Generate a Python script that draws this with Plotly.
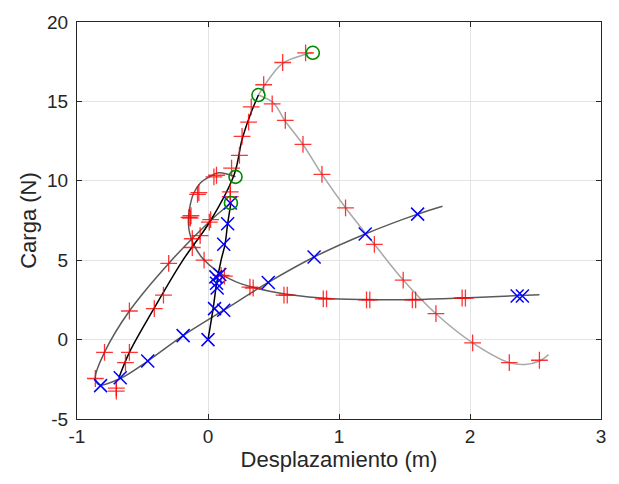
import plotly.graph_objects as go

# ---- line paths (x, y) ----
light1_x = [0.385, 0.43, 0.57, 0.74, 0.80]
light1_y = [15.4, 16.0, 17.4, 17.95, 18.06]

light2_x = [0.385, 0.50, 0.59, 0.72, 0.87, 1.05, 1.27, 1.49, 1.74, 2.02, 2.30, 2.42, 2.53, 2.60]
light2_y = [15.4, 14.9, 13.75, 12.35, 10.4, 8.3, 6.0, 3.75, 1.63, -0.2, -1.45, -1.57, -1.35, -0.95]

dark1_x = [0.21, 0.08, 0.01, -0.06, -0.11, -0.14, -0.15, -0.14, -0.11, -0.04, 0.07, 0.21, 0.47, 0.89, 1.22, 1.57, 1.95, 2.53]
dark1_y = [10.25, 10.5, 10.25, 9.85, 9.2, 8.3, 7.4, 6.7, 6.0, 5.1, 4.3, 3.65, 3.05, 2.6, 2.52, 2.52, 2.62, 2.83]

dark2_x = [0.175, 0.02, -0.30, -0.60, -0.79, -0.86, -0.83, -0.67, -0.46, -0.19, 0.12, 0.46, 0.81, 1.20, 1.60, 1.79]
dark2_y = [8.6, 7.5, 4.8, 1.8, -0.8, -2.4, -2.85, -2.45, -1.35, 0.25, 1.85, 3.6, 5.2, 6.65, 7.9, 8.4]

black1_x = [0.0, 0.04, 0.065, 0.10, 0.13, 0.15, 0.175]
black1_y = [0.0, 2.0, 3.5, 5.0, 6.0, 7.3, 8.6]

black2_x = [-0.68, -0.60, -0.42, -0.20, 0.02, 0.20, 0.26, 0.32, 0.385]
black2_y = [-2.4, -0.8, 1.85, 4.9, 7.5, 10.4, 12.6, 14.1, 15.4]

# ---- markers ----
red_x = [0.745, 0.57, 0.425, 0.49, 0.59, 0.725, 0.87, 1.05, 1.27, 1.49, 1.74, 2.02, 2.30, 2.53,
         0.33, 0.31, 0.26, 0.24, 0.18, 0.17, 0.17,
         0.045, 0.065, -0.08, -0.07, -0.13, -0.135, -0.145, 0.01, 0.02,
         -0.06, -0.12, -0.12, -0.03, -0.30, 0.10, 0.125, 0.32, 0.345,
         -0.34, -0.41, -0.60, 0.58, 0.605, 0.88, 0.905, 1.21, 1.235, 1.56, 1.585, 1.94, 1.965,
         -0.79, -0.60, -0.63, -0.86, -0.70, -0.70]
red_y = [18.05, 17.45, 16.05, 14.85, 13.8, 12.3, 10.4, 8.3, 6.0, 3.75, 1.63, -0.2, -1.45, -1.3,
         14.65, 13.7, 12.8, 11.6, 10.8, 9.3, 9.0,
         10.25, 10.35, 9.15, 9.25, 7.8, 7.65, 7.7, 7.4, 7.55,
         6.55, 6.35, 5.8, 5.0, 4.8, 4.05, 4.0, 3.3, 3.25,
         2.8, 1.95, 1.8, 2.8, 2.8, 2.57, 2.57, 2.5, 2.5, 2.5, 2.5, 2.62, 2.62,
         -0.8, -0.8, -1.45, -2.45, -3.05, -3.25]

blue_x = [0.0, 0.05, 0.07, 0.065, 0.06, 0.09, 0.12, 0.15, 0.17,
          -0.19, 0.12, -0.46, -0.67, -0.82, 0.46, 0.81, 1.20, 1.60, 2.36, 2.40]
blue_y = [0.0, 1.95, 3.25, 3.55, 3.95, 4.1, 6.0, 7.3, 8.6,
          0.25, 1.85, -1.35, -2.4, -2.9, 3.6, 5.2, 6.65, 7.9, 2.75, 2.75]

green_x = [0.175, 0.21, 0.385, 0.80]
green_y = [8.6, 10.25, 15.4, 18.06]

x_ticks = [-1, 0, 1, 2, 3]
y_ticks = [-5, 0, 5, 10, 15, 20]

FONT = "Liberation Sans, Arial, sans-serif"

fig = go.Figure()

def add_line(x, y, color):
    fig.add_trace(go.Scatter(x=x, y=y, mode="lines",
                             line=dict(color=color, width=1.5, shape="spline", smoothing=1.0),
                             hoverinfo="skip", showlegend=False))

add_line(light1_x, light1_y, "#a8a8a8")
add_line(light2_x, light2_y, "#a8a8a8")
add_line(dark1_x, dark1_y, "#5a5a5a")
add_line(dark2_x, dark2_y, "#5a5a5a")
add_line(black1_x, black1_y, "#000000")
add_line(black2_x, black2_y, "#000000")

fig.add_trace(go.Scatter(x=red_x, y=red_y, mode="markers",
                         marker=dict(symbol="cross-thin", size=12,
                                     line=dict(color="rgba(255,0,0,0.8)", width=1.3)),
                         showlegend=False))
fig.add_trace(go.Scatter(x=blue_x, y=blue_y, mode="markers",
                         marker=dict(symbol="x-thin", size=13,
                                     line=dict(color="#0000ff", width=1.5)),
                         showlegend=False))
fig.add_trace(go.Scatter(x=green_x, y=green_y, mode="markers",
                         marker=dict(symbol="circle-open", size=13, color="#008a00",
                                     line=dict(color="#008a00", width=1.6)),
                         showlegend=False))

axis_common = dict(showline=True, linecolor="#262626", linewidth=1, mirror="ticks",
                   ticks="inside", ticklen=5, tickcolor="#262626",
                   showgrid=True, gridcolor="#e3e3e3", gridwidth=1, zeroline=False,
                   tickfont=dict(family=FONT, size=19, color="#262626"))

fig.update_layout(
    width=619, height=484,
    margin=dict(l=77, r=18, t=16, b=65),
    plot_bgcolor="white", paper_bgcolor="white",
    xaxis=dict(range=[-1, 3], tickvals=x_ticks, ticktext=[str(v) for v in x_ticks],
               title=dict(text="Desplazamiento (m)", standoff=4,
                          font=dict(family=FONT, size=22, color="#262626")),
               **axis_common),
    yaxis=dict(range=[-5, 20], tickvals=y_ticks, ticktext=[str(v) for v in y_ticks],
               ticklabelstandoff=4,
               title=dict(text="Carga (N)", standoff=4,
                          font=dict(family=FONT, size=22, color="#262626")),
               **axis_common),
)

fig.write_html("out.html")
